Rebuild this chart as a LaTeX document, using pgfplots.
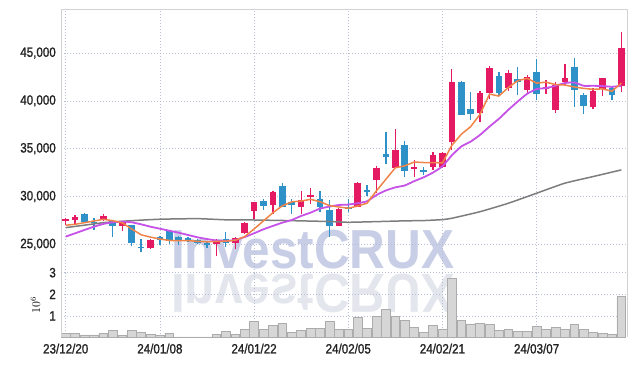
\documentclass[border=0pt]{standalone}
\usepackage{pgfplots}
\pgfplotsset{compat=1.18}
\usepackage{pgfplotstable}
\usepackage{fontspec}
\setmainfont{Liberation Sans}
\newfontfamily\tickfont[FakeStretch=0.86, FakeBold=1.2]{Liberation Sans}
\newfontfamily\wmfont[FakeStretch=0.9]{Liberation Sans}

\definecolor{upred}{RGB}{228,26,98}
\definecolor{dnblue}{RGB}{46,146,200}
\definecolor{maA}{RGB}{240,132,72}
\definecolor{maB}{RGB}{198,82,232}
\definecolor{maC}{RGB}{125,125,125}
\definecolor{gridc}{RGB}{185,190,215}
\definecolor{framec}{RGB}{210,210,210}
\definecolor{wm}{RGB}{200,206,230}
\definecolor{wmr}{RGB}{228,230,238}
\definecolor{volfill}{RGB}{214,214,214}
\definecolor{voledge}{RGB}{172,172,172}
\definecolor{tickc}{RGB}{35,35,35}

% up candles: x open high low close
\pgfplotstableread{
x o h l c
0 27480 27700 27000 27650
1 27580 28100 27050 27890
4 27540 28150 27400 27960
6 26950 27450 26420 27370
9 24650 25600 24500 25400
16 25060 25600 23800 25450
18 25100 25750 24480 25660
19 26210 27350 26100 27260
20 28450 29460 27620 29400
22 29080 30600 28200 30480
25 28950 30550 28200 29600
26 29950 30850 29200 30150
29 26920 28800 26900 28700
31 28950 31550 28900 31400
33 31700 33170 30370 33000
35 33020 37040 33000 34870
37 32850 33800 32000 33100
39 33090 34600 32800 34300
40 33120 34650 32950 34500
41 35650 43350 34900 42000
44 38700 41000 37800 40850
45 40770 43650 40150 43450
47 41330 43250 40980 42950
49 41150 42700 40800 42480
51 41250 42200 40700 41400
52 39000 42000 38700 41650
53 42000 43850 41700 42400
56 39400 41300 39100 41050
57 41230 42400 40550 42380
59 41500 47200 40950 45550
}\upc

% down candles: x open high low close
\pgfplotstableread{
x o h l c
2 28200 28280 27280 27300
3 27330 27700 26450 27230
5 27450 27500 25730 26950
7 27000 27030 24820 25100
8 24760 25550 24150 24640
10 25730 25900 24930 25420
11 26400 26500 25050 25450
12 25730 25870 24960 25310
13 25630 25730 25240 25420
14 25450 25590 25030 25170
15 25170 25310 24580 24900
17 25520 26300 24750 25100
21 29530 29750 28560 29050
23 31100 31390 28900 28950
24 29430 29770 28200 29150
27 29720 30550 28380 28870
28 28590 29600 25730 26920
30 28900 29700 28350 28650
32 30660 31180 30060 30540
34 34400 36730 33380 34150
36 35350 35800 32000 32700
38 32720 33120 32250 32610
42 42000 42050 38500 38550
43 39150 40950 38000 38650
46 42600 43000 40500 40800
48 42300 43550 40650 41950
50 43050 44350 40100 40700
54 43550 44480 39350 41080
55 40630 40800 38600 39500
58 41330 41500 40100 40660
}\dnc

% moving averages (5 and 20 day)
\pgfplotstableread{
x a b
0 26990 25800
1 27090 26150
2 27260 26500
3 27440 26840
4 27610 27130
5 27470 27300
6 27250 27370
7 26600 27300
8 26000 27090
9 25750 26840
10 25550 26630
11 25400 26420
12 25380 26210
13 25380 25970
14 25310 25730
15 25260 25550
16 25300 25400
17 25330 25350
18 25420 25450
19 25800 25760
20 26600 26150
21 27450 26570
22 28300 26920
23 29020 27260
24 29440 27540
25 29520 27960
26 29700 28310
27 29450 28730
28 29050 28940
29 28900 29110
30 28770 29150
31 29000 29300
32 29300 29500
33 30600 30150
34 31800 30630
35 33000 30950
36 33200 31150
37 33600 31600
38 33550 32000
39 33550 32500
40 33500 33150
41 35350 34300
42 36500 35220
43 37300 35740
44 38600 36440
45 40700 37310
46 40500 38120
47 41400 39060
48 42100 39930
49 42350 40740
50 41850 41230
51 41950 41330
52 41700 41570
53 41650 41860
54 41450 41920
55 41300 41570
56 41200 41570
57 41250 41540
58 41000 41470
59 41850 41570
}\mas

% long moving average
\pgfplotstableread{
x g
0 26740
2 27000
4 27260
7 27470
10 27620
14 27680
17 27560
20 27540
24 27470
28 27380
30 27300
33 27370
36 27450
38 27480
40 27580
41 27720
44 28410
47 29290
50 30340
53 31390
56 32080
59 32780
}\lma

% volume (millions)
\pgfplotstableread{
x v
0 0.19
1 0.19
2 0.12
3 0.12
4 0.19
5 0.32
6 0.09
7 0.32
8 0.25
9 0.15
10 0.09
11 0.19
12 0.03
13 0.03
14 0.03
15 0.03
16 0.15
17 0.29
18 0.15
19 0.37
20 0.74
21 0.39
22 0.57
23 0.65
24 0.25
25 0.34
26 0.42
27 0.42
28 0.74
29 0.39
30 0.39
31 0.94
32 0.42
33 0.99
34 1.30
35 0.96
36 0.80
37 0.48
38 0.25
39 0.56
40 0.39
41 2.74
42 0.79
43 0.63
44 0.66
45 0.62
46 0.34
47 0.37
48 0.29
49 0.29
50 0.51
51 0.39
52 0.46
53 0.39
54 0.62
55 0.37
56 0.25
57 0.20
58 0.14
59 1.92
}\vol

\pgfplotsset{
  common/.style={
    scale only axis, width=566pt,
    xmin=-0.5, xmax=59.6,
    xtick={0,10,20,30,40,50},
    axis line style={draw=none},
    tick style={draw=none},
    grid=major,
    major grid style={gridc, dash pattern=on 1pt off 2pt, line width=0.6pt},
    yticklabel style={anchor=east, inner sep=0pt, xshift=-5pt, text=tickc,
      font=\tickfont\fontsize{13.5}{14}\selectfont},
    xticklabel style={anchor=north, inner sep=0pt, yshift=-6pt, text=tickc,
      font=\tickfont\fontsize{13.5}{14}\selectfont},
    /pgf/number format/assume math mode=true,
    /pgf/number format/1000 sep={,},
    scaled y ticks=false,
  },
}

\begin{document}
\begin{tikzpicture}[x=1pt,y=1pt]
% watermark with reflection (price panel bottom-left corner is the origin)
\node[anchor=base west, inner sep=0pt, text=wm, font=\wmfont\bfseries\fontsize{55}{55}\selectfont] at (110pt,3.7pt) {InvestCRUX};
\node[anchor=base west, inner sep=0pt, text=wmr, yscale=-1, font=\wmfont\bfseries\fontsize{55}{55}\selectfont] at (110pt,-2.3pt) {InvestCRUX};

\begin{axis}[common, name=price, at={(0pt,0pt)}, anchor=south west, height=263.7pt,
  ymin=22030, ymax=49600,
  xticklabels={},
  ytick={25000,30000,35000,40000,45000},
  after end axis/.code={\draw[framec, line width=0.8pt] (rel axis cs:0,0) -- (rel axis cs:0,1) -- (rel axis cs:1,1) -- (rel axis cs:1,0);},
]
% wicks
\addplot[draw=none, mark=none, error bars/.cd, y dir=both, y explicit, error mark=none,
  error bar style={draw=upred, line width=1.3pt}]
  table[x=x, y expr={(\thisrow{h}+\thisrow{l})/2}, y error expr={(\thisrow{h}-\thisrow{l})/2}] {\upc};
\addplot[draw=none, mark=none, error bars/.cd, y dir=both, y explicit, error mark=none,
  error bar style={draw=dnblue, line width=1.3pt}]
  table[x=x, y expr={(\thisrow{h}+\thisrow{l})/2}, y error expr={(\thisrow{h}-\thisrow{l})/2}] {\dnc};
% bodies
\addplot[draw=none, mark=none, error bars/.cd, y dir=both, y explicit, error mark=none,
  error bar style={draw=upred, line width=6.6pt}]
  table[x=x, y expr={(\thisrow{o}+\thisrow{c})/2}, y error expr={max(abs(\thisrow{c}-\thisrow{o})/2,60)}] {\upc};
\addplot[draw=none, mark=none, error bars/.cd, y dir=both, y explicit, error mark=none,
  error bar style={draw=dnblue, line width=6.6pt}]
  table[x=x, y expr={(\thisrow{o}+\thisrow{c})/2}, y error expr={max(abs(\thisrow{c}-\thisrow{o})/2,60)}] {\dnc};
% moving averages
\addplot[maC, line width=1.5pt, mark=none, smooth, tension=0.3] table[x=x, y=g] {\lma};
\addplot[maB, line width=1.8pt, mark=none, line join=round, smooth, tension=0.3] table[x=x, y=b] {\mas};
\addplot[maA, line width=1.5pt, mark=none, line join=round] table[x=x, y=a] {\mas};
\end{axis}

\begin{axis}[common, name=vol, at={(price.south west)}, anchor=north west, height=64.8pt,
  ymin=0, ymax=3, ytick={1,2,3},
  xticklabels={23/12/20,24/01/08,24/01/22,24/02/05,24/02/21,24/03/07},
  ylabel={$10^6$},
  ylabel style={inner sep=0pt, font=\fontsize{12}{12}\selectfont},
  ylabel shift=9pt,
  after end axis/.code={\draw[framec, line width=0.8pt] (rel axis cs:0,0) -- (rel axis cs:0,1); \draw[framec, line width=0.8pt] (rel axis cs:1,0) -- (rel axis cs:1,1);},
]
\addplot[ybar, bar width=8.8pt, fill=volfill, draw=voledge, line width=0.6pt] table[x=x, y=v] {\vol};
\end{axis}
\pgfresetboundingbox
\useasboundingbox (-61pt,-93.3pt) rectangle (573pt,272.7pt);
\end{tikzpicture}
\end{document}
